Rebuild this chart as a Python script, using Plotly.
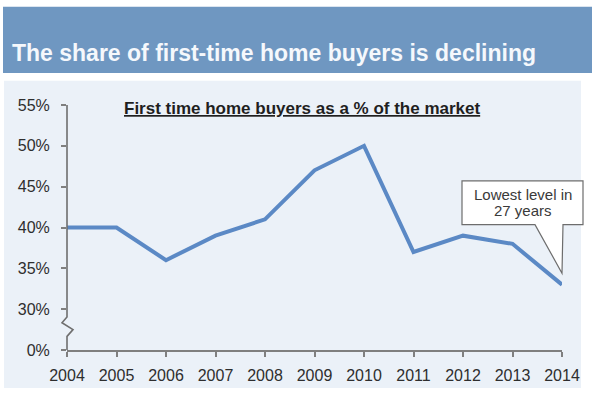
import plotly.graph_objects as go

# First-time buyers' share of the home market, by year
years = [2004, 2005, 2006, 2007, 2008, 2009, 2010, 2011, 2012, 2013, 2014]
share_pct = [40, 40, 36, 39, 41, 47, 50, 37, 39, 38, 33]

# The y axis is broken: everything below 30% is collapsed so "0%" sits at 25
y_tickvals = [25, 30, 35, 40, 45, 50, 55]
y_ticktext = ["0%", "30%", "35%", "40%", "45%", "50%", "55%"]

title_text = "The share of first-time home buyers is declining"
subtitle_text = "First time home buyers as a % of the market"
callout_lines = ["Lowest level in", "27 years"]

W, H = 592, 396
L, R, T, B = 67, 30, 105, 39
PW, PH = W - L - R, H - T - B


def px(x):
    return (x - L) / PW


def py(y):
    return (H - B - y) / PH


def path(points):
    return "M" + " L".join(f"{px(a):.5f},{py(b):.5f}" for a, b in points)


fig = go.Figure()
fig.add_trace(go.Scatter(
    x=years, y=share_pct, mode="lines",
    line=dict(color="#5b89c5", width=4),
    hoverinfo="x+y",
))

shapes = [
    # header band
    dict(type="rect", xref="paper", yref="paper", layer="below",
         x0=px(3), x1=px(592), y0=py(72), y1=py(4),
         fillcolor="#6f97c1", line=dict(width=0)),
    # chart panel
    dict(type="rect", xref="paper", yref="paper", layer="below",
         x0=px(4), x1=px(581), y0=py(396), y1=py(80),
         fillcolor="#ebf1f8", line=dict(width=0)),
    # y axis with break marker
    dict(type="path", xref="paper", yref="paper", layer="above",
         path=path([(67, 105), (67, 323), (62, 329), (73, 336), (67, 343), (67, 357)]),
         line=dict(color="#6f6f6f", width=1.6)),
    # callout bubble
    dict(type="path", xref="paper", yref="paper", layer="above",
         path=path([(462, 183), (583, 183), (583, 228), (563, 228), (562, 278),
                    (535, 228), (462, 228)]) + " Z",
         fillcolor="#ffffff", line=dict(color="#6d6d6d", width=1.2)),
]

annotations = [
    dict(xref="paper", yref="paper", x=px(10), y=py(52), xanchor="left", yanchor="middle",
         text=f"<b>{title_text}</b>", showarrow=False,
         font=dict(family="Liberation Sans, Arial", size=23, color="#f5f8fc")),
    dict(xref="paper", yref="paper", x=px(302), y=py(109), xanchor="center", yanchor="middle",
         text=f"<b><u>{subtitle_text}</u></b>", showarrow=False,
         font=dict(family="Liberation Sans, Arial", size=17, color="#1f1f1f")),
    dict(xref="paper", yref="paper", x=px(523), y=py(197), xanchor="center", yanchor="middle",
         text=callout_lines[0], showarrow=False,
         font=dict(family="Liberation Sans, Arial", size=15, color="#3a3a3a")),
    dict(xref="paper", yref="paper", x=px(523), y=py(214), xanchor="center", yanchor="middle",
         text=callout_lines[1], showarrow=False,
         font=dict(family="Liberation Sans, Arial", size=15, color="#3a3a3a")),
]

fig.update_layout(
    width=W, height=H,
    margin=dict(l=L, r=R, t=T, b=B, pad=0),
    paper_bgcolor="#ffffff", plot_bgcolor="rgba(0,0,0,0)",
    showlegend=False,
    shapes=shapes, annotations=annotations,
    font=dict(family="Liberation Sans, Arial", size=16, color="#2e2e2e"),
)
fig.update_xaxes(
    range=[2004, 2014], tickvals=years, ticktext=[str(y) for y in years],
    showgrid=False, zeroline=False,
    showline=True, linecolor="#7f7f7f", linewidth=1.5,
    ticks="outside", ticklen=5, tickwidth=1.5, tickcolor="#7f7f7f",
    ticklabelstandoff=5,
    tickfont=dict(size=16, color="#2e2e2e"),
)
fig.update_yaxes(
    range=[25, 55], tickvals=y_tickvals, ticktext=y_ticktext,
    showgrid=False, zeroline=False, showline=False,
    ticks="outside", ticklen=5, tickwidth=1.5, tickcolor="#7f7f7f",
    ticklabelstandoff=8,
    tickfont=dict(size=16, color="#2e2e2e"),
)

fig.write_html("out.html")
